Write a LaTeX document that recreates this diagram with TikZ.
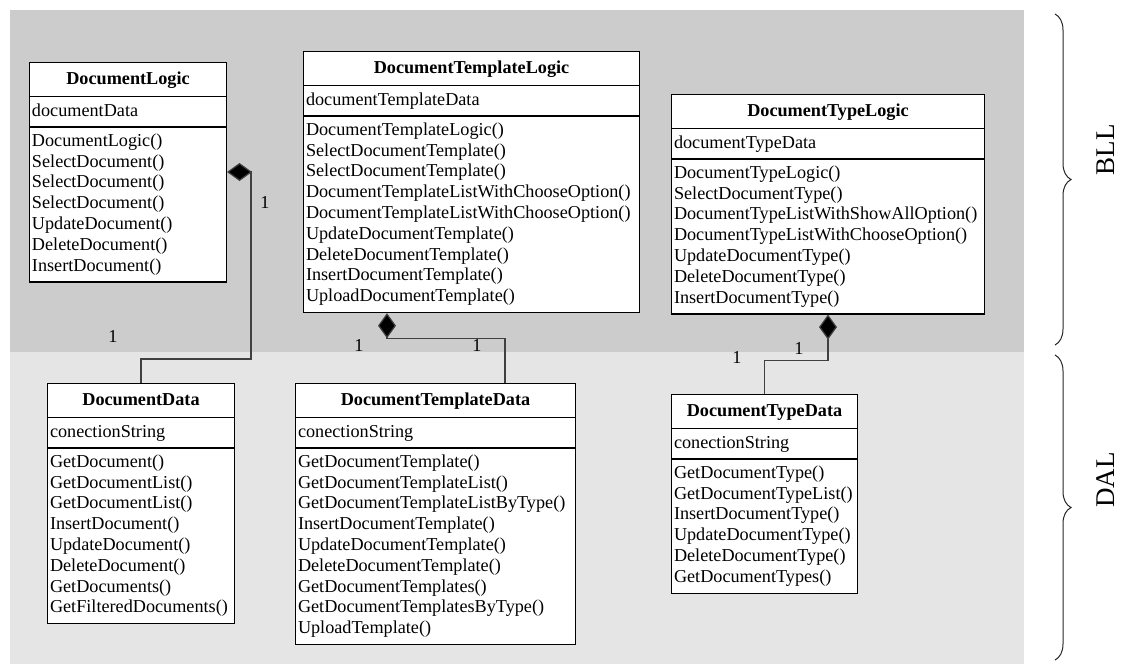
\documentclass[tikz,border=0pt]{standalone}
\usepackage{fontspec}
\setmainfont{Liberation Serif}
\usetikzlibrary{shapes.multipart, arrows.meta, positioning, calc, backgrounds, decorations.pathreplacing}
\usepackage{xcolor}
\definecolor{bllGray}{HTML}{CCCCCC}
\definecolor{dalGray}{HTML}{E5E5E5}
\definecolor{linkGray}{HTML}{404040}
\hyphenpenalty=10000
\exhyphenpenalty=10000
\tikzset{
    font=\fontsize{9.1}{10.4}\selectfont,
    >=Stealth,
    % Layers
    bll/.style={fill=bllGray},
    dal/.style={fill=dalGray},
    % Classes
    umlclass/.style={rectangle split, rectangle split parts=3, draw=black, line width=0.6pt,
                     fill=white, anchor=north west, inner xsep=1.2pt, inner ysep=2.05pt, align=left},
    % Links & Labels
    compo/.style={draw=linkGray, line width=0.6pt, {Diamond[length=12.5pt, width=9pt, fill=black]}-},
    mult/.style={inner sep=0pt},
    layerbrace/.style={decorate, decoration={brace, amplitude=8pt}, draw=black!85, line width=0.5pt},
    layerlbl/.style={rotate=90, font=\fontsize{13.5}{15}\selectfont}
}
\newcommand{\ctitle}[1]{\centerline{\rule[-3.6pt]{0pt}{12.4pt}\textbf{#1}}}

\begin{document}
\begin{tikzpicture}[x=0.5pt, y=-0.5pt]
\useasboundingbox (0,0) rectangle (1137,664);

% Layers
\fill[bll] (10,10) rectangle (1024,352);
\fill[dal] (10,352) rectangle (1024,664);

% BLL classes
\node[umlclass, text width=96pt] (dlogic) at (29,62) {\ctitle{DocumentLogic}
  \nodepart{second}\strut documentData
  \nodepart{third}\strut DocumentLogic()\\SelectDocument()\\SelectDocument()\\SelectDocument()\\
  UpdateDocument()\\DeleteDocument()\\InsertDocument()\strut};
\node[umlclass, text width=165.5pt] (tlogic) at (303,51) {\ctitle{DocumentTemplateLogic}
  \nodepart{second}\strut documentTemplateData
  \nodepart{third}\strut DocumentTemplateLogic()\\SelectDocumentTemplate()\\SelectDocumentTemplate()\\
  DocumentTemplateListWithChooseOption()\\DocumentTemplateListWithChooseOption()\\
  UpdateDocumentTemplate()\\DeleteDocumentTemplate()\\InsertDocumentTemplate()\\UploadDocumentTemplate()\strut};
\node[umlclass, text width=154pt] (tylogic) at (671,94) {\ctitle{DocumentTypeLogic}
  \nodepart{second}\strut documentTypeData
  \nodepart{third}\strut DocumentTypeLogic()\\SelectDocumentType()\\DocumentTypeListWithShowAllOption()\\
  DocumentTypeListWithChooseOption()\\UpdateDocumentType()\\DeleteDocumentType()\\InsertDocumentType()\strut};

% DAL classes
\node[umlclass, text width=91pt] (ddata) at (47,383) {\ctitle{DocumentData}
  \nodepart{second}\strut conectionString
  \nodepart{third}\strut GetDocument()\\GetDocumentList()\\GetDocumentList()\\InsertDocument()\\
  UpdateDocument()\\DeleteDocument()\\GetDocuments()\\GetFilteredDocuments()\strut};
\node[umlclass, text width=137.5pt] (tdata) at (295,383) {\ctitle{DocumentTemplateData}
  \nodepart{second}\strut conectionString
  \nodepart{third}\strut GetDocumentTemplate()\\GetDocumentTemplateList()\\GetDocumentTemplateListByType()\\
  InsertDocumentTemplate()\\UpdateDocumentTemplate()\\DeleteDocumentTemplate()\\
  GetDocumentTemplates()\\GetDocumentTemplatesByType()\\UploadTemplate()\strut};
\node[umlclass, text width=90.5pt] (tydata) at (671,394) {\ctitle{DocumentTypeData}
  \nodepart{second}\strut conectionString
  \nodepart{third}\strut GetDocumentType()\\GetDocumentTypeList()\\InsertDocumentType()\\
  UpdateDocumentType()\\DeleteDocumentType()\\GetDocumentTypes()\strut};

% Compositions
\draw[compo] ($(dlogic.north east)+(0,110)$) -- ++(24,0) |- ($(ddata.north)+(0,-24)$) -- (ddata.north);
\draw[compo] ($(tlogic.south west)+(84,0)$) -- ++(0,25) -| ($(tdata.north west)+(210,0)$);
\draw[compo] ($(tylogic.south west)+(157,0)$) -- ++(0,46) -| (tydata.north);

% Multiplicities
\node[mult] (m1) at (265,202) {1};
\node[mult] (m2) at (113,336) {1};
\node[mult] (m3) at (359,345) {1};
\node[mult] (m4) at (477,345) {1};
\node[mult] (m5) at (737,357) {1};
\node[mult] (m6) at (799,348) {1};

% Layer braces
\coordinate (bllTop) at (1055,14);
\coordinate (bllBot) at (1055,345);
\coordinate (dalTop) at (1055,355);
\coordinate (dalBot) at (1055,660);
\draw[layerbrace] (bllTop) -- (bllBot);
\draw[layerbrace] (dalTop) -- (dalBot);
\node[layerlbl] (bll) at (1106,150) {BLL};
\node[layerlbl] (dal) at (1106,480) {DAL};

\end{tikzpicture}
\end{document}
